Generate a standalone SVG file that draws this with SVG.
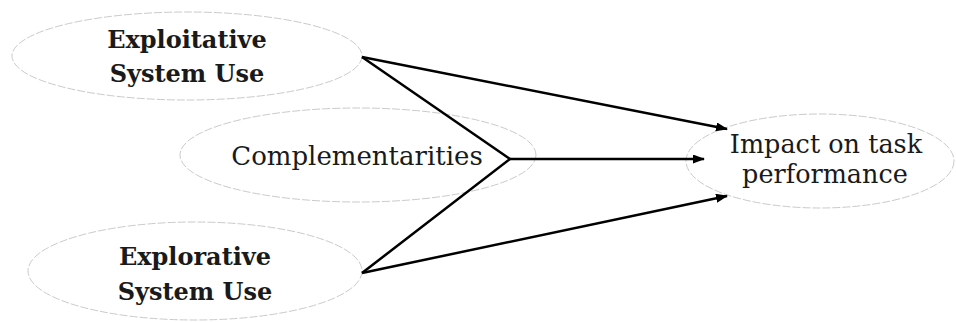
<svg xmlns="http://www.w3.org/2000/svg" width="956" height="322" viewBox="0 0 956 322">
<style>
.node ellipse{fill:#fff;stroke:#bdbdbd;stroke-width:0.8;stroke-dasharray:8 2}
.lbl{font-family:"DejaVu Serif","Liberation Serif",serif;font-size:26px;fill:#1a1a1a;text-anchor:middle}
.b{font-weight:bold;font-size:24px}
.s{font-size:25.5px}
.conn line, .conn polyline{stroke:#000;stroke-width:2.5;fill:none}
</style>
<defs>
<marker id="ah" markerUnits="userSpaceOnUse" markerWidth="12" markerHeight="10" refX="11" refY="4.5" orient="auto">
<path d="M0,0 L12,4.5 L0,9 z" fill="#000"/>
</marker>
</defs>
<rect width="956" height="322" fill="#fff"/>
<g id="n-exploitative" class="node">
<ellipse cx="187" cy="56" rx="175" ry="44"/>
<text class="lbl b" x="187" y="48">Exploitative</text>
<text class="lbl b" x="187" y="82">System Use</text>
</g>
<g id="n-complementarities" class="node">
<ellipse cx="358" cy="155" rx="178" ry="47"/>
<text class="lbl" x="357" y="165">Complementarities</text>
</g>
<g id="n-explorative" class="node">
<ellipse cx="195" cy="271" rx="167" ry="49"/>
<text class="lbl b" x="195" y="265">Explorative</text>
<text class="lbl b" x="195" y="300">System Use</text>
</g>
<g id="n-impact" class="node">
<ellipse cx="820" cy="161" rx="134" ry="47"/>
<text class="lbl s" x="826" y="153">Impact on task</text>
<text class="lbl s" x="825" y="183">performance</text>
</g>
<g id="connectors" class="conn">
<line x1="362" y1="57" x2="727" y2="129" marker-end="url(#ah)"/>
<polyline points="362,57 510,159 362,273"/>
<line x1="510" y1="159" x2="704" y2="159" marker-end="url(#ah)"/>
<line x1="362" y1="273" x2="727" y2="196" marker-end="url(#ah)"/>
</g>
</svg>
